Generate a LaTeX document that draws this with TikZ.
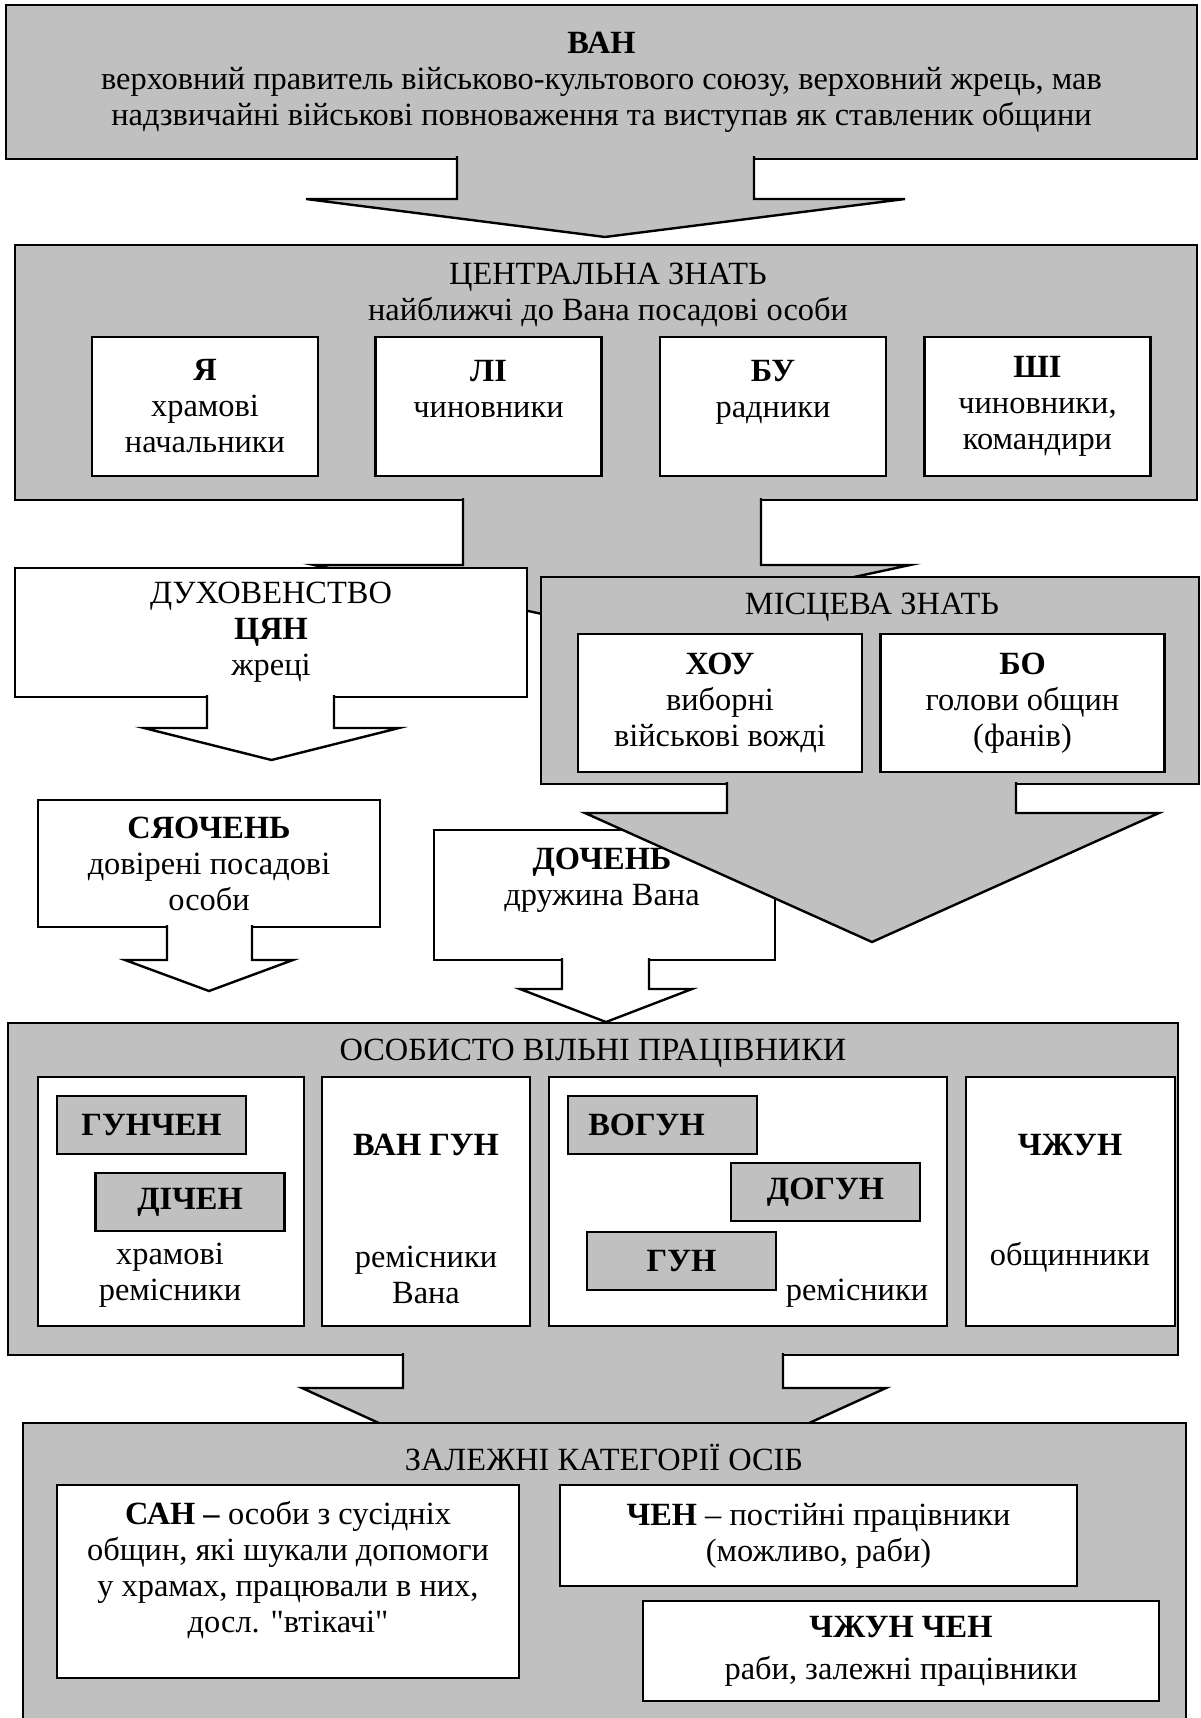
\documentclass[tikz,border=0pt]{standalone}
\usepackage{fontspec}
\setmainfont{Liberation Serif}[Ligatures=TeXOff]
\definecolor{boxgray}{RGB}{192,192,192}
\begin{document}
\begin{tikzpicture}[x=0.5pt,y=-0.5pt,font=\fontsize{16.2}{18}\selectfont,
	gbox/.style={draw,fill=boxgray,line width=1.2pt,inner sep=0pt,outer sep=0pt,align=center},
	wbox/.style={draw,fill=white,line width=1.2pt,inner sep=0pt,outer sep=0pt,align=center},
	txt/.style={align=center,inner sep=0pt},
	gblk/.style={draw,fill=boxgray,line width=1.2pt},
	wblk/.style={draw,fill=white,line width=1.2pt}]
	\useasboundingbox (0,0) rectangle (1200,1718);
	\clip (0,0) rectangle (1200,1718);
	\node[gbox,minimum width=595.5pt,minimum height=77pt] (ban) at (601.5,82)
		{\textbf{ВАН}\\верховний правитель військово-культового союзу, верховний жрець, мав\\надзвичайні військові повноваження та виступав як ставленик общини};
	\filldraw[gblk] (457,156) -- (457,199) -- (306,199) -- (605,237) -- (905,199) -- (754,199) -- (754,156);
	\node[gbox,minimum width=591pt,minimum height=127.5pt] (centr) at (606,372.5) {};
	\node[txt] (centrtitle) at (608,295) {ЦЕНТРАЛЬНА ЗНАТЬ\\найближчі до Вана посадові особи};
	\foreach \nm/\cx/\tx in {ya/205/{\textbf{Я}\\храмові\\начальники},li/488.5/{\textbf{ЛІ}\\чиновники\\\mbox{}},bu/773/{\textbf{БУ}\\радники\\\mbox{}},shi/1037.5/{\textbf{ШІ}\\чиновники,\\командири}}
		\node[wbox,minimum width=113pt,minimum height=69.5pt] (\nm) at (\cx,406.5) {\tx};
	\filldraw[gblk] (463,498) -- (463,565) -- (314,565) -- (612,629) -- (910,565) -- (761,565) -- (761,498);
	\node[wbox,minimum width=256pt,minimum height=64.5pt] (dukh) at (271,632.5) {ДУХОВЕНСТВО\\\textbf{ЦЯН}\\жреці};
	\node[gbox,minimum width=329pt,minimum height=103.5pt] (mists) at (870,680.5) {};
	\node[txt] (miststitle) at (872,607) {МІСЦЕВА ЗНАТЬ};
	\node[wbox,minimum width=142pt,minimum height=69pt] (khou) at (720,703) {\textbf{ХОУ}\\виборні\\військові вожді};
	\node[wbox,minimum width=142pt,minimum height=69pt] (bo) at (1022.5,703) {\textbf{БО}\\голови общин\\(фанів)};
	\node[wbox,minimum width=171pt,minimum height=63.5pt] (syao) at (209,863.5) {\textbf{СЯОЧЕНЬ}\\довірені посадові\\особи};
	\node[wbox,minimum width=170.5pt,minimum height=65pt] (doch) at (604.5,895) {};
	\node[txt] (dochtxt) at (602,880) {\textbf{ДОЧЕНЬ}\\дружина Вана};
	\foreach \xl/\xr/\ya/\yb/\hl/\hr/\tip in {207/334/695/728/144/399/760,167/252/925/960/125/293/991,562/649/958/989/520/692/1022}
		\filldraw[wblk] (\xl,\ya) -- (\xl,\yb) -- (\hl,\yb) -- ({(\hl+\hr)/2},\tip) -- (\hr,\yb) -- (\xr,\yb) -- (\xr,\ya);
	\filldraw[gblk] (727,782) -- (727,813) -- (585,813) -- (872,942) -- (1159,813) -- (1016,813) -- (1016,782);
	\node[gbox,minimum width=585pt,minimum height=166pt] (osob) at (593,1189) {};
	\node[txt] (osobtitle) at (593,1053) {ОСОБИСТО ВІЛЬНІ ПРАЦІВНИКИ};
	\foreach \nm/\cx/\w in {kA/171/133pt,kB/426/104pt,kC/748/199pt,kD/1070.5/104.5pt}
		\node[wbox,minimum width=\w,minimum height=124.5pt] (\nm) at (\cx,1201.5) {};
	\foreach \nm/\cx/\cy/\tx in {gunchen/151.5/1125/ГУНЧЕН,dichen/190/1202/ДІЧЕН,vogun/662.5/1125/ВОГУН\hspace{16pt},dogun/825.5/1192/ДОГУН,gun/681.5/1261/ГУН}
		\node[gbox,minimum width=94.5pt,minimum height=29pt] (\nm) at (\cx,\cy) {\textbf{\tx}};
	\node[txt] (kAtxt) at (170,1275) {храмові\\ремісники};
	\node[txt] (kBtitle) at (426,1145) {\textbf{ВАН ГУН}};
	\node[txt] (kBtxt) at (426,1275) {ремісники\\Вана};
	\node[txt] (kCtxt) at (857,1293) {ремісники};
	\node[txt] (kDtitle) at (1070,1145) {\textbf{ЧЖУН}};
	\node[txt] (kDtxt) at (1070,1257) {общинники};
	\filldraw[gblk] (403,1353) -- (403,1388) -- (302,1388) -- (594,1521) -- (886,1388) -- (783,1388) -- (783,1353);
	\node[gbox,minimum width=581.5pt,minimum height=158.5pt] (zalezh) at (604.5,1581.5) {};
	\node[txt] (zalezhtitle) at (604,1457) {ЗАЛЕЖНІ КАТЕГОРІЇ ОСІБ};
	\node[wbox,minimum width=231pt,minimum height=96.5pt] (san) at (288,1581.5) {};
	\node[txt] (santxt) at (288,1570) {\textbf{САН –} особи з сусідніх\\общин, які шукали допомоги\\у храмах, працювали в них,\\досл. "втікачі"};
	\node[wbox,minimum width=258.5pt,minimum height=50.5pt] (chen) at (818.5,1535.5) {\textbf{ЧЕН} – постійні працівники\\(можливо, раби)};
	\node[wbox,minimum width=258pt,minimum height=50pt] (chzhun) at (901,1651) {\textbf{ЧЖУН ЧЕН}\\[3pt]раби, залежні працівники};
\end{tikzpicture}
\end{document}
